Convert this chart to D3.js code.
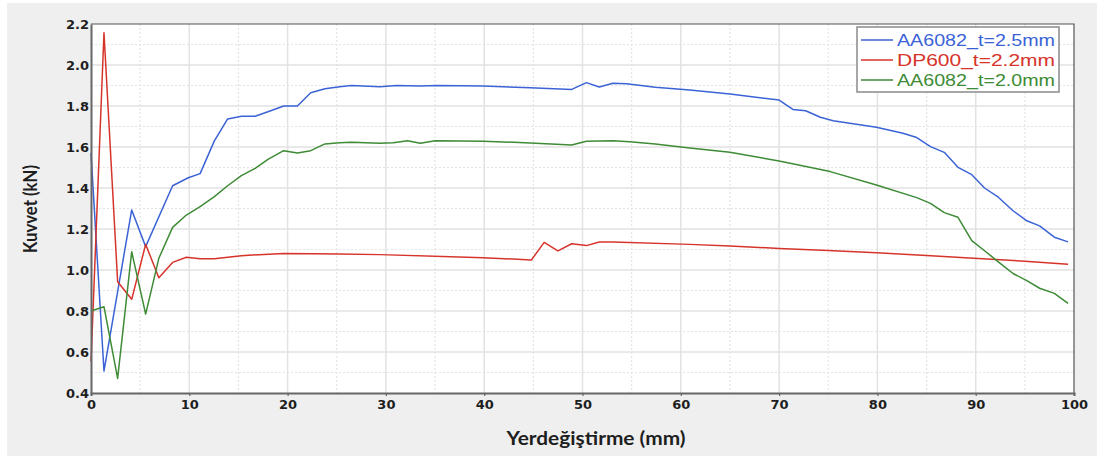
<!DOCTYPE html>
<html>
<head>
<meta charset="utf-8">
<script src="https://cdn.jsdelivr.net/npm/d3@7"></script>
<style>
  html, body { margin: 0; padding: 0; background: #ffffff; }
  svg { display: block; }
</style>
</head>
<body>
<svg id="chart" width="1097" height="456"></svg>
<script>
// Displacement (mm) / force (kN) samples for each specimen
const blueX  = [0, 1.32, 4.14, 5.56, 8.3, 9.9, 11.1, 12.55, 13.9, 15.3, 16.7, 18.0, 19.6, 21.0, 22.35, 23.8, 25.3, 26.5, 29.4, 31.1, 33.5, 35.2, 39.9, 44.7, 48.9, 50.4, 51.7, 53.1, 54.5, 57.4, 60.9, 65.0, 70.0, 71.4, 72.7, 74.2, 75.5, 79.9, 82.6, 84.0, 85.4, 86.8, 88.2, 89.6, 90.9, 92.3, 93.8, 95.2, 96.5, 98.0, 99.4];
const blueY  = [1.57, 0.507, 1.293, 1.114, 1.411, 1.45, 1.47, 1.63, 1.737, 1.75, 1.75, 1.772, 1.80, 1.80, 1.865, 1.884, 1.894, 1.90, 1.894, 1.90, 1.897, 1.90, 1.897, 1.889, 1.881, 1.914, 1.893, 1.911, 1.909, 1.891, 1.878, 1.859, 1.829, 1.783, 1.777, 1.745, 1.728, 1.696, 1.667, 1.646, 1.602, 1.574, 1.501, 1.465, 1.40, 1.355, 1.289, 1.24, 1.215, 1.16, 1.137];

const redX   = [0, 1.32, 2.71, 4.14, 5.56, 6.9, 8.3, 9.7, 11.1, 12.55, 15.3, 19.6, 25.3, 29.4, 39.9, 44.8, 46.1, 47.5, 48.9, 50.4, 51.7, 53.1, 60.9, 65.0, 70.0, 75.0, 79.9, 85.0, 89.8, 95.0, 99.4];
const redY   = [0.553, 2.157, 0.943, 0.857, 1.125, 0.962, 1.037, 1.062, 1.055, 1.055, 1.07, 1.081, 1.078, 1.075, 1.06, 1.049, 1.135, 1.093, 1.128, 1.119, 1.137, 1.137, 1.125, 1.117, 1.105, 1.095, 1.084, 1.071, 1.057, 1.043, 1.028];

const greenX = [0, 1.32, 2.71, 4.14, 5.56, 6.9, 8.3, 9.7, 11.1, 12.55, 13.9, 15.3, 16.7, 18.0, 19.6, 21.0, 22.35, 23.8, 25.3, 26.5, 29.4, 30.75, 32.2, 33.5, 35.0, 39.9, 44.7, 48.9, 50.4, 53.1, 54.8, 57.4, 60.9, 65.0, 70.0, 75.2, 79.9, 84.0, 85.4, 86.8, 88.2, 89.6, 90.9, 92.3, 93.8, 95.2, 96.5, 98.0, 99.4];
const greenY = [0.80, 0.821, 0.471, 1.089, 0.785, 1.057, 1.208, 1.268, 1.309, 1.358, 1.411, 1.46, 1.496, 1.54, 1.582, 1.571, 1.582, 1.615, 1.621, 1.623, 1.618, 1.621, 1.631, 1.618, 1.631, 1.628, 1.62, 1.61, 1.628, 1.631, 1.626, 1.615, 1.595, 1.574, 1.532, 1.48, 1.415, 1.353, 1.325, 1.28, 1.257, 1.143, 1.094, 1.04, 0.983, 0.948, 0.911, 0.886, 0.837];

const seriesNames  = ["AA6082_t=2.5mm", "DP600_t=2.2mm", "AA6082_t=2.0mm"];
const seriesColors = ["#3b63d6", "#d6342b", "#3e8b36"];

const xTicks = [0, 10, 20, 30, 40, 50, 60, 70, 80, 90, 100];
const yTicks = [0.4, 0.6, 0.8, 1.0, 1.2, 1.4, 1.6, 1.8, 2.0, 2.2];
const xMinorTicks = [5, 15, 25, 35, 45, 55, 65, 75, 85, 95];
const yMinorTicks = [0.5, 0.7, 0.9, 1.1, 1.3, 1.5, 1.7, 1.9, 2.1];

const xTitle = "Yerdeğiştirme (mm)";
const yTitle = "Kuvvet (kN)";

const svg = d3.select("#chart");
const W = 1097, H = 456;
const plot = { left: 91, right: 1074, top: 24, bottom: 393 };

// page background panel
svg.append("rect").attr("x", 7).attr("y", 3).attr("width", W - 7).attr("height", H - 3).attr("fill", "#efefef");

const x = d3.scaleLinear().domain([0, 100]).range([plot.left, plot.right]);
const y = d3.scaleLinear().domain([0.4, 2.2]).range([plot.bottom, plot.top]);

// plotting area
svg.append("rect")
  .attr("x", plot.left).attr("y", plot.top)
  .attr("width", plot.right - plot.left).attr("height", plot.bottom - plot.top)
  .attr("fill", "#ffffff");

const grid = svg.append("g");
// minor dotted grid
grid.selectAll(".xmin").data(xMinorTicks).join("line")
  .attr("x1", d => x(d)).attr("x2", d => x(d))
  .attr("y1", plot.top).attr("y2", plot.bottom)
  .attr("stroke", "#e4e4e4").attr("stroke-width", 1.2).attr("stroke-dasharray", "2,2");
grid.selectAll(".ymin").data(yMinorTicks).join("line")
  .attr("x1", plot.left).attr("x2", plot.right)
  .attr("y1", d => y(d)).attr("y2", d => y(d))
  .attr("stroke", "#e4e4e4").attr("stroke-width", 1.2).attr("stroke-dasharray", "2,2");
// major grid
grid.selectAll(".xmaj").data(xTicks.slice(1, -1)).join("line")
  .attr("x1", d => x(d)).attr("x2", d => x(d))
  .attr("y1", plot.top).attr("y2", plot.bottom)
  .attr("stroke", "#e2e2e2").attr("stroke-width", 1.5);
grid.selectAll(".ymaj").data(yTicks.slice(1, -1)).join("line")
  .attr("x1", plot.left).attr("x2", plot.right)
  .attr("y1", d => y(d)).attr("y2", d => y(d))
  .attr("stroke", "#e2e2e2").attr("stroke-width", 1.5);

// frame (top and right)
svg.append("path")
  .attr("d", `M${plot.left},${plot.top}H${plot.right}V${plot.bottom}`)
  .attr("fill", "none").attr("stroke", "#555").attr("stroke-width", 1.2);

// series lines
const line = d3.line().x(d => x(d[0])).y(d => y(d[1]));
const seriesData = [
  d3.zip(blueX, blueY),
  d3.zip(redX, redY),
  d3.zip(greenX, greenY)
];
const lines = svg.append("g");
seriesData.forEach((pts, i) => {
  lines.append("path")
    .datum(pts)
    .attr("d", line)
    .attr("fill", "none")
    .attr("stroke", seriesColors[i])
    .attr("stroke-width", 1.5)
    .attr("stroke-linejoin", "round");
});

// axes
const xAxis = d3.axisBottom(x).tickValues(xTicks).tickFormat(d3.format("d")).tickSize(3).tickPadding(4);
const yAxis = d3.axisLeft(y).tickValues(yTicks).tickFormat(d3.format(".1f")).tickSize(0).tickPadding(2);

const gx = svg.append("g").attr("transform", `translate(0,${plot.bottom})`).call(xAxis);
const gy = svg.append("g").attr("transform", `translate(${plot.left},0)`).call(yAxis);

[gx, gy].forEach(g => {
  g.select(".domain").attr("stroke", "#666").attr("stroke-width", 2);
  g.selectAll(".tick line").attr("stroke", "#666").attr("stroke-width", 1.2);
  g.selectAll(".tick text")
    .attr("fill", "#1e1e1e")
    .style("font-family", "'DejaVu Sans', Verdana, sans-serif")
    .style("font-weight", "bold")
    .style("font-size", "13px");
});
gy.selectAll(".tick text").attr("dy", "0.36em");

// axis titles
svg.append("text")
  .attr("x", 596).attr("y", 445)
  .attr("text-anchor", "middle")
  .attr("fill", "#1e1e1e")
  .attr("textLength", 179).attr("lengthAdjust", "spacingAndGlyphs")
  .style("font-family", "Lato, 'Open Sans', sans-serif")
  .style("font-weight", "bold")
  .style("font-size", "18px")
  .text(xTitle);

svg.append("text")
  .attr("transform", "translate(36.5,209) rotate(-90)")
  .attr("text-anchor", "middle")
  .attr("fill", "#1e1e1e")
  .attr("textLength", 88).attr("lengthAdjust", "spacingAndGlyphs")
  .style("font-family", "Lato, 'Open Sans', sans-serif")
  .style("font-weight", "bold")
  .style("font-size", "18px")
  .text(yTitle);

// legend
const lg = svg.append("g");
lg.append("rect")
  .attr("x", 857).attr("y", 27).attr("width", 202).attr("height", 65)
  .attr("fill", "#ffffff").attr("stroke", "#8a8a8a").attr("stroke-width", 1.5);
seriesNames.forEach((name, i) => {
  const cy = 40 + i * 20;
  lg.append("line")
    .attr("x1", 861).attr("x2", 893).attr("y1", cy).attr("y2", cy)
    .attr("stroke", seriesColors[i]).attr("stroke-width", 1.5);
  lg.append("text")
    .attr("x", 897).attr("y", cy).attr("dy", "0.36em")
    .attr("fill", seriesColors[i])
    .attr("textLength", 158).attr("lengthAdjust", "spacingAndGlyphs")
    .style("font-family", "'Liberation Sans', Arial, sans-serif")
    .style("font-size", "17px")
    .text(name);
});
</script>
</body>
</html>
